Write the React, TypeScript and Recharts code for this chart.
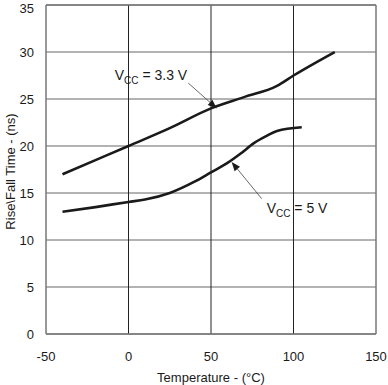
import React from 'react';
import {
  LineChart,
  Line,
  XAxis,
  YAxis,
  CartesianGrid,
  ReferenceLine,
} from 'recharts';

// temperature (°C) vs rise/fall time (ns)
const temp33 = [-40, -20, 0, 25, 50, 70, 90, 100, 125];
const rise33 = [17, 18.5, 20, 21.9, 24, 25.2, 26.4, 27.5, 30];

const temp5 = [-40, -20, 0, 10, 25, 40, 50, 60, 68, 76, 84, 90, 105];
const rise5 = [13, 13.5, 14.05, 14.3, 15, 16.2, 17.2, 18.2, 19.2, 20.3, 21.1, 21.6, 22];

const xTicks = [-50, 0, 50, 100, 150];
const yTicks = [0, 5, 10, 15, 20, 25, 30, 35];

// callouts: label, arrow start (tail) and tip, in data units
const callouts = [
  { volts: '3.3 V', tail: { x: 36.2, y: 26.7 }, tip: { x: 53.5, y: 24.0 }, side: 'left' },
  { volts: '5 V', tail: { x: 80.7, y: 14.4 }, tip: { x: 62.5, y: 18.3 }, side: 'right' },
];

const FONT = '"Liberation Sans", Arial, sans-serif';
const INK = '#1a1a1a';

const series33 = temp33.map((t, i) => ({ t, v: rise33[i] }));
const series5 = temp5.map((t, i) => ({ t, v: rise5[i] }));

function renderCallout(p: any, c: (typeof callouts)[number]) {
  const { x1, y1, x2, y2 } = p;
  const dx = x2 - x1;
  const dy = y2 - y1;
  const len = Math.sqrt(dx * dx + dy * dy) || 1;
  const ux = dx / len;
  const uy = dy / len;
  const headLen = 9;
  const headW = 3.5;
  const bx = x2 - ux * headLen;
  const by = y2 - uy * headLen;
  const head = `${x2},${y2} ${bx - uy * headW},${by + ux * headW} ${bx + uy * headW},${by - ux * headW}`;
  const left = c.side === 'left';
  return (
    <g>
      <line x1={x1} y1={y1} x2={bx} y2={by} stroke="#444" strokeWidth={0.8} />
      <polygon points={head} fill={INK} />
      <text
        x={left ? x1 - 1 : x1 + 5}
        y={left ? y1 - 3 : y1 + 14}
        textAnchor={left ? 'end' : 'start'}
        fontFamily={FONT}
        fontSize={14}
        fill={INK}
      >
        <tspan>V</tspan>
        <tspan fontSize={10} dy={4}>CC</tspan>
        <tspan dy={-4}>{` = ${c.volts}`}</tspan>
      </text>
    </g>
  );
}

export default function App() {
  return (
    <div style={{ position: 'absolute', left: 0, top: 0, background: '#fff' }}>
      <LineChart width={388} height={385} margin={{ top: 5, right: 12, bottom: 0, left: 0 }}>
        <CartesianGrid vertical={false} stroke="#666" strokeWidth={1} />
        <XAxis
          type="number"
          dataKey="t"
          domain={[-50, 150]}
          ticks={xTicks}
          height={51}
          tickSize={0}
          tickMargin={18}
          axisLine={false}
          tickLine={false}
          tick={{ fill: INK, fontSize: 13, fontFamily: FONT }}
          label={{
            value: 'Temperature - (°C)',
            position: 'insideBottom',
            offset: 3,
            style: { fill: INK, fontSize: 13, fontFamily: FONT },
          }}
        />
        <YAxis
          type="number"
          domain={[0, 35]}
          ticks={yTicks}
          width={46}
          tickSize={0}
          tickMargin={12}
          axisLine={false}
          tickLine={false}
          tick={{ fill: INK, fontSize: 13, fontFamily: FONT }}
          label={{
            value: 'Rise\\Fall Time - (ns)',
            angle: -90,
            position: 'insideLeft',
            offset: 10,
            dy: 2,
            style: { textAnchor: 'middle', fill: INK, fontSize: 13, fontFamily: FONT },
          }}
        />
        {xTicks.slice(1, -1).map((x) => (
          <ReferenceLine key={x} x={x} stroke="#222" strokeWidth={1} />
        ))}
        <ReferenceLine x={xTicks[0]} stroke="#777" strokeWidth={1.5} />
        <ReferenceLine x={xTicks[xTicks.length - 1]} stroke="#777" strokeWidth={1.5} />
        <ReferenceLine y={yTicks[0]} stroke="#777" strokeWidth={1.5} />
        <ReferenceLine y={yTicks[yTicks.length - 1]} stroke="#777" strokeWidth={1.5} />
        <Line
          data={series33}
          dataKey="v"
          type="monotone"
          stroke={INK}
          strokeWidth={2.6}
          dot={false}
          isAnimationActive={false}
        />
        <Line
          data={series5}
          dataKey="v"
          type="monotone"
          stroke={INK}
          strokeWidth={2.6}
          dot={false}
          isAnimationActive={false}
        />
        {callouts.map((c) => (
          <ReferenceLine
            key={c.volts}
            segment={[c.tail, c.tip]}
            shape={(p: any) => renderCallout(p, c)}
          />
        ))}
      </LineChart>
    </div>
  );
}
